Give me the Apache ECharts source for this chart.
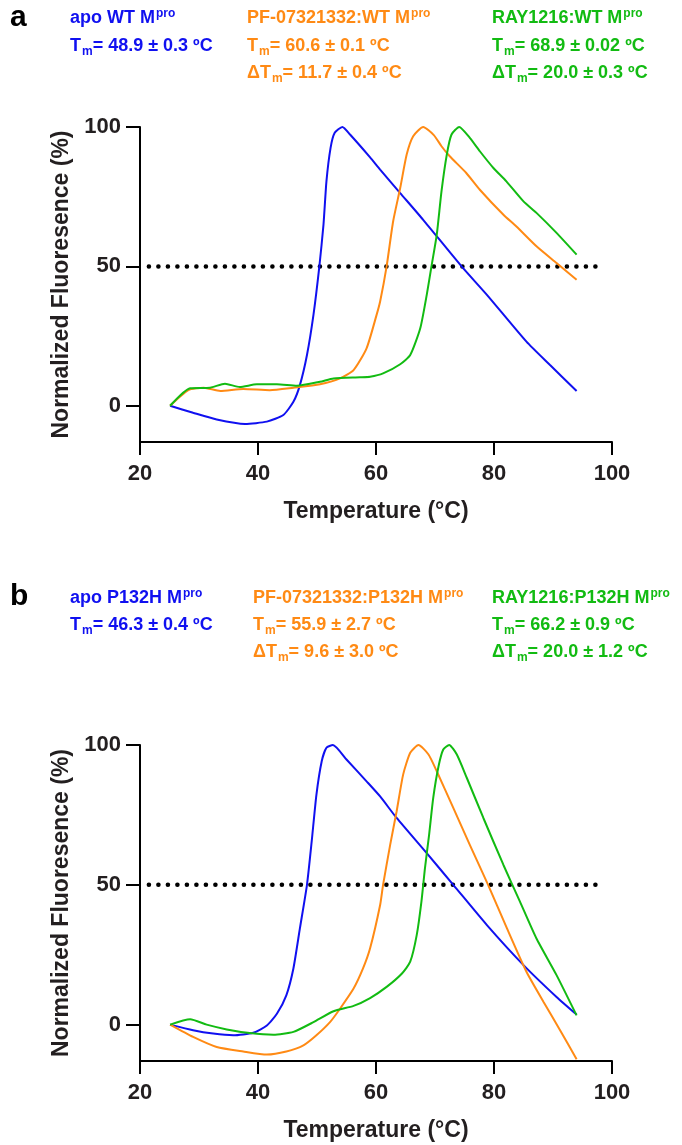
<!DOCTYPE html>
<html>
<head>
<meta charset="utf-8">
<script src="https://cdn.jsdelivr.net/npm/echarts@6/dist/echarts.min.js"></script>
<style>
  html, body { margin: 0; padding: 0; background: #fff; }
  #chart { width: 682px; height: 1145px; }
</style>
</head>
<body>
<div id="chart"></div>
<script>
// [temperature °C, normalized fluorescence %]
const apoWT = [[25.1,0],[29,-2.5],[33,-4.9],[37.8,-6.5],[41.5,-5.7],[44.3,-3.3],[46,1.4],[47.1,7.4],[48.3,18.2],[49.4,32.6],[50.4,50],[51.1,65],[51.6,80.5],[52.3,92.5],[53,97.9],[54.3,100],[55.6,97.3],[59,89.1],[60.7,84.7],[64.1,76.3],[68,66.7],[74.5,50],[78.8,39.8],[85.5,23],[89.5,14.6],[94,5.3]];
const pfWT = [[25.1,0],[28.2,5.6],[30.8,6.5],[33.6,5.3],[37.5,6],[42,5.6],[46,6.5],[50.5,7.7],[53.9,9.8],[56.2,12.8],[58.4,20.6],[60.1,32.6],[60.7,37.4],[61.8,50],[62.9,66.1],[64.1,78.1],[65.2,90.1],[66.3,96.7],[68,100],[69.8,97.1],[71.1,93.1],[72.5,89.5],[75.3,83.5],[77.6,77.5],[81.6,68.5],[83.8,64.3],[87.2,57.2],[90.6,51.2],[94,45.2]];
const rayWT = [[25.1,0],[28.5,6.3],[31.9,6.5],[34.4,7.9],[36.9,6.7],[39.8,7.7],[43.2,7.7],[46.6,7.2],[50.5,8.6],[52.8,9.8],[57.3,10.2],[59,10.4],[61.2,11.6],[64.1,14.9],[65.8,18.2],[67.5,27.8],[68.6,39.8],[69.4,50],[70.3,61.4],[71.1,76.9],[72,90.1],[72.8,97.3],[74.1,100],[75.9,96.1],[77.6,91.3],[79.9,85.3],[82.1,80.5],[85,73.3],[87.2,69.2],[90.6,62],[94,54.2]];

const apoP132H = [[25.1,0],[29,-2],[32.4,-3.2],[35.8,-3.8],[39.2,-2.9],[41.5,-0.3],[43.2,3.9],[44.8,10.5],[46,20.1],[47.1,34.4],[48.3,50],[49.1,65.5],[49.9,82.2],[50.8,94.2],[51.6,99],[52.7,100],[55,94.8],[58.4,87],[60.7,81.6],[63.5,73.9],[68.6,61.3],[73.1,50],[78.8,35.6],[85,21.3],[90.6,9.9],[94,3.6]];
const pfP132H = [[25.1,0],[29,-4.4],[33,-8],[37.5,-9.6],[41.5,-10.7],[44.8,-9.6],[47.7,-7.4],[49.9,-3.8],[52.2,0.9],[53.9,5.7],[56.2,12.9],[57.8,20.1],[59,27.3],[60.7,42.8],[61.2,50],[62.4,64.3],[63.5,76.3],[64.6,89.4],[65.8,97.2],[67.2,100],[68.9,96.6],[70.3,90.6],[73.1,77.5],[75.9,64.3],[79,50],[82.2,34.4],[85.5,18.9],[88.4,8.1],[91.2,-2],[94,-12.4]];
const rayP132H = [[25.1,0],[28.5,1.9],[31.3,0],[34.7,-1.7],[38.6,-3],[42.6,-3.6],[46,-2.6],[49.4,0.9],[52.8,4.8],[56.2,6.7],[59,9.5],[61.8,13.5],[64.4,18.3],[65.8,22.5],[66.9,32],[67.7,44],[68.3,56],[69,67.9],[69.7,81.1],[70.6,92.4],[71.4,98.4],[72.4,100],[73.7,96.6],[75.4,88.2],[78.2,73.9],[81.6,57.1],[84.4,44],[87.2,30.8],[90.6,17.7],[94,3.3]];

const yTicks = [0, 50, 100];
// 50 % reference level, drawn as a dotted line
const halfLine = [[21.5, 50], [98, 50]];

// header texts: [main, sup] or [main, sub, rest]
const headersA = [
  [['apo WT M', 'pro'], ['T', 'm', '= 48.9 ± 0.3 ºC']],
  [['PF-07321332:WT M', 'pro'], ['T', 'm', '= 60.6 ± 0.1 ºC'], ['ΔT', 'm', '= 11.7 ± 0.4 ºC']],
  [['RAY1216:WT M', 'pro'], ['T', 'm', '= 68.9 ± 0.02 ºC'], ['ΔT', 'm', '= 20.0 ± 0.3 ºC']]
];
const headersB = [
  [['apo P132H M', 'pro'], ['T', 'm', '= 46.3 ± 0.4 ºC']],
  [['PF-07321332:P132H M', 'pro'], ['T', 'm', '= 55.9 ± 2.7 ºC'], ['ΔT', 'm', '= 9.6 ± 3.0 ºC']],
  [['RAY1216:P132H M', 'pro'], ['T', 'm', '= 66.2 ± 0.9 ºC'], ['ΔT', 'm', '= 20.0 ± 1.2 ºC']]
];

const BLUE = '#1010f0';
const ORANGE = '#ff8a14';
const GREEN = '#12bb12';
const FONT = '"Liberation Sans", Arial, sans-serif';
const INK = '#231f20';

const chart = echarts.init(document.getElementById('chart'));

const rich = {
  b: { fontFamily: FONT, fontWeight: 'bold', fontSize: 18 },
  sup: { fontFamily: FONT, fontWeight: 'bold', fontSize: 12, padding: [0, 0, 9, 1] },
  sub: { fontFamily: FONT, fontWeight: 'bold', fontSize: 12, padding: [12, 0, 0, 1] }
};

function headerTexts(cols, colX, lineY, colors) {
  const out = [];
  cols.forEach((lines, c) => {
    lines.forEach((ln, r) => {
      const text = ln.length === 2
        ? `{b|${ln[0]}}{sup|${ln[1]}}`
        : `{b|${ln[0]}}{sub|${ln[1]}}{b|${ln[2]}}`;
      out.push({
        type: 'text', x: colX[c], y: lineY[r],
        style: { text, rich, fill: colors[c], verticalAlign: 'middle', align: 'left' }
      });
    });
  });
  return out;
}

const colors = [BLUE, ORANGE, GREEN];
const graphic = [
  { type: 'text', x: 10, y: 18, style: { text: 'a', fill: '#000', fontFamily: FONT, fontWeight: 'bold', fontSize: 30, verticalAlign: 'middle' } },
  { type: 'text', x: 10, y: 597, style: { text: 'b', fill: '#000', fontFamily: FONT, fontWeight: 'bold', fontSize: 30, verticalAlign: 'middle' } },
  ...headerTexts(headersA, [70, 247, 492], [18, 46, 73], colors),
  ...headerTexts(headersB, [70, 253, 492], [598, 625, 652], colors)
];

const grids = [
  { left: 140, top: 127, width: 472, height: 315 },
  { left: 140, top: 745, width: 472, height: 316 }
];

function xAxis(i) {
  return {
    gridIndex: i, type: 'value', min: 20, max: 100, interval: 20,
    axisLine: { onZero: false, lineStyle: { color: '#000', width: 2 } },
    axisTick: { length: 13, lineStyle: { color: '#000', width: 2 } },
    axisLabel: { margin: 21, color: INK, fontFamily: FONT, fontWeight: 'bold', fontSize: 22 },
    splitLine: { show: false },
    name: 'Temperature (°C)', nameLocation: 'middle', nameGap: 58,
    nameTextStyle: { color: INK, fontFamily: FONT, fontWeight: 'bold', fontSize: 23 }
  };
}
function yAxis(i) {
  return {
    gridIndex: i, type: 'value', min: -13, max: 100,
    axisLine: { show: true, onZero: false, lineStyle: { color: '#000', width: 2 } },
    axisTick: { show: true, length: 14, customValues: yTicks, lineStyle: { color: '#000', width: 2 } },
    axisLabel: { customValues: yTicks, margin: 19, color: INK, fontFamily: FONT, fontWeight: 'bold', fontSize: 22 },
    splitLine: { show: false },
    name: 'Normalized Fluoresence (%)', nameLocation: 'middle', nameGap: 58,
    nameTextStyle: { color: INK, fontFamily: FONT, fontWeight: 'bold', fontSize: 23 }
  };
}

function line(data, color, i) {
  return {
    type: 'line', data, xAxisIndex: i, yAxisIndex: i,
    showSymbol: false, smooth: 0.2,
    lineStyle: { color, width: 2 }, itemStyle: { color },
    z: 3
  };
}
function dotted(i) {
  return {
    type: 'line', data: halfLine, xAxisIndex: i, yAxisIndex: i,
    showSymbol: false, silent: true,
    lineStyle: { color: '#000', width: 4.5, type: [0.1, 9.4], cap: 'round' },
    z: 1
  };
}

chart.setOption({
  animation: false,
  backgroundColor: '#fff',
  grid: grids,
  xAxis: [xAxis(0), xAxis(1)],
  yAxis: [yAxis(0), yAxis(1)],
  graphic,
  series: [
    dotted(0),
    line(apoWT, BLUE, 0),
    line(pfWT, ORANGE, 0),
    line(rayWT, GREEN, 0),
    dotted(1),
    line(apoP132H, BLUE, 1),
    line(pfP132H, ORANGE, 1),
    line(rayP132H, GREEN, 1)
  ]
});
</script>
</body>
</html>
